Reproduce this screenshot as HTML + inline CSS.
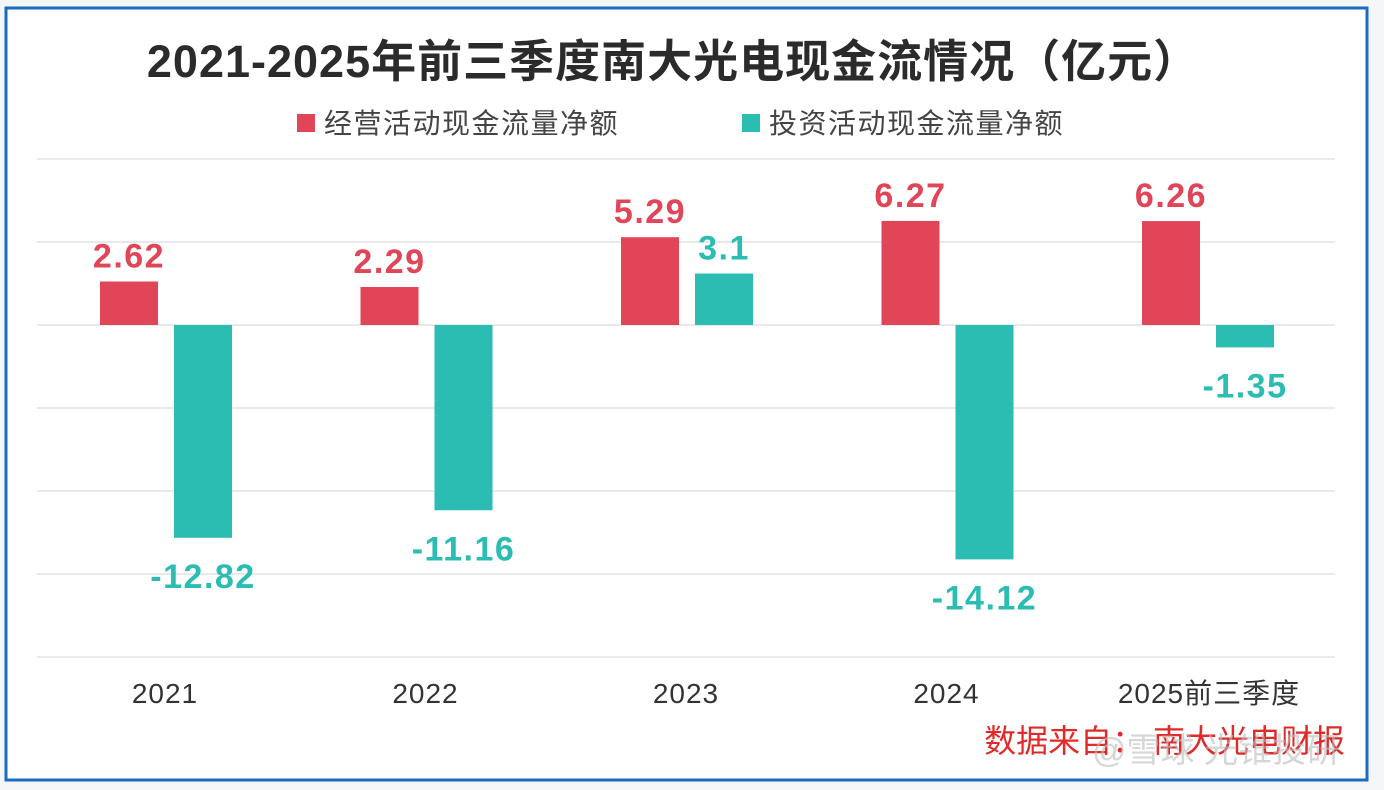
<!DOCTYPE html>
<html><head><meta charset="utf-8">
<style>
html,body{margin:0;padding:0;background:#f4f6f8;}
svg{display:block;font-family:"Liberation Sans","Noto Sans CJK SC",sans-serif;}
</style></head>
<body>
<svg id="chart" width="1384" height="790" viewBox="0 0 1384 790">
<rect x="6" y="8" width="1361" height="772" fill="#fff" stroke="#1a6cbf" stroke-width="3"/>
<text x="673" y="77" text-anchor="middle" font-size="45" font-weight="bold" letter-spacing="1" fill="#2b2b2b">2021-2025年前三季度南大光电现金流情况（亿元）</text>
<g>
<g><rect x="297" y="114" width="18" height="18" fill="#e04558"/><text x="324" y="133" font-size="28" letter-spacing="1.5" fill="#444">经营活动现金流量净额</text></g>
<g><rect x="742" y="114" width="18" height="18" fill="#2bbcb2"/><text x="769" y="133" font-size="28" letter-spacing="1.5" fill="#444">投资活动现金流量净额</text></g>
</g>
<g id="grid"></g>
<g id="bars"></g>
<g id="xlabels"></g>
<text x="1345" y="752" text-anchor="end" font-size="32" fill="#e02a2a">数据来自： 南大光电财报</text>
<text x="1340" y="762" text-anchor="end" font-size="34" fill="#bbb" opacity="0.6">@雪球 光锥投研</text>
</svg>
<script>
const categories=["2021","2022","2023","2024","2025前三季度"];
const operating=[2.62,2.29,5.29,6.27,6.26];
const investing=[-12.82,-11.16,3.1,-14.12,-1.35];
const ticks=[10,5,0,-5,-10,-15,-20];
const NS="http://www.w3.org/2000/svg";
const y0=325, ppu=16.6;
function y(v){return y0-v*ppu;}
function xc(i){return 165+i*260.5;}
function mk(tag,attrs,parent){const e=document.createElementNS(NS,tag);for(const k in attrs)e.setAttribute(k,attrs[k]);parent.appendChild(e);return e;}
const grid=document.getElementById('grid'),bars=document.getElementById('bars'),xl=document.getElementById('xlabels');
ticks.forEach(t=>{const l=mk('line',{x1:37,x2:1335,y1:y(t),y2:y(t),stroke:'#e2e2e2','stroke-width':1.5},grid);

});
function bar(v,cx,color,name){
 const top=Math.min(y(v),y(0)),h=Math.abs(y(v)-y(0));
 const r=mk('rect',{x:cx-29,y:top,width:58,height:h,fill:color},bars);
 
 
 const ly=v>=0?y(v)-14:y(v)+50;
 const t=mk('text',{x:cx,y:ly,'text-anchor':'middle','font-size':34,'font-weight':'bold','letter-spacing':1.5,fill:color},bars);
 t.textContent=String(v);
 
 
}
categories.forEach((c,i)=>{
 bar(operating[i],xc(i)-36,'#e04558','bar-operating-'+i);
 bar(investing[i],xc(i)+38,'#2bbcb2','bar-investing-'+i);
 const t=mk('text',{x:xc(i)+(i==4?2:0),y:703,'text-anchor':'middle','font-size':28,'letter-spacing':1,fill:'#333'},xl);
 t.textContent=c;
 
 
});
</script>
</body></html>
